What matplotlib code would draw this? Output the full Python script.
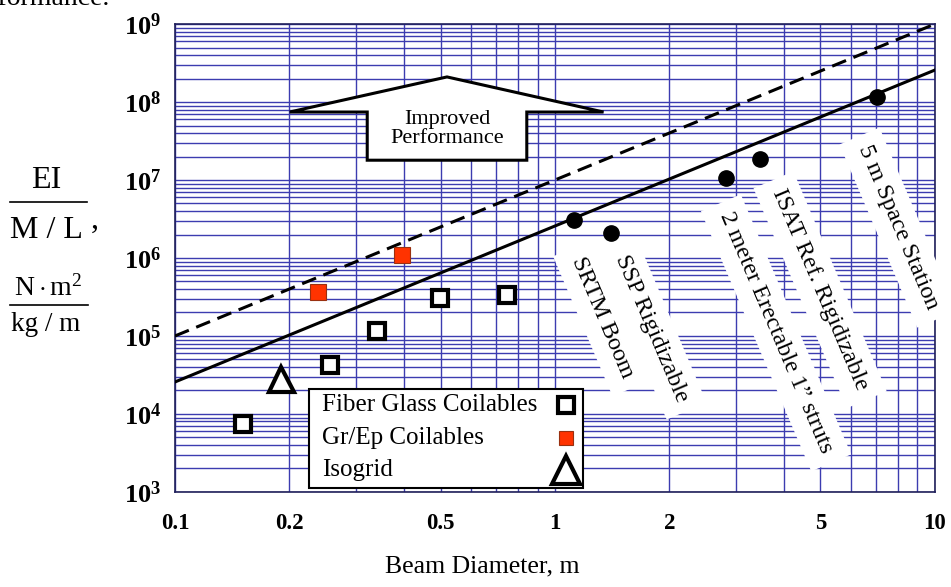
import matplotlib
matplotlib.use("Agg")
import matplotlib.pyplot as plt
from matplotlib.lines import Line2D
from matplotlib.patches import Polygon, Rectangle

plt.rcParams["font.family"] = ["Liberation Serif", "DejaVu Serif"]
plt.rcParams["mathtext.fontset"] = "custom"
plt.rcParams["mathtext.rm"] = "Liberation Serif"
plt.rcParams["mathtext.bf"] = "Liberation Serif:bold"
plt.rcParams["mathtext.it"] = "Liberation Serif:italic"

# beam diameter (m) vs EI/(M/L) (N m^2 / (kg/m))
fiberglass_d = [0.151, 0.256, 0.340, 0.498, 0.748]
fiberglass_ei = [7.45e3, 4.24e4, 1.16e5, 3.07e5, 3.36e5]
grep_d = [0.238, 0.396]
grep_ei = [3.66e5, 1.09e6]
isogrid_d = [0.190]
isogrid_ei = [2.81e4]

rigid_names = ["SRTM Boom", "SSP Rigidizable", "2 meter Erectable 1\u201d struts",
               "ISAT Ref. Rigidizable", "5 m Space Station"]
rigid_d = [1.122, 1.403, 2.82, 3.46, 7.03]
rigid_ei = [3.07e6, 2.09e6, 1.06e7, 1.86e7, 1.16e8]

# trend lines
line_d = [0.1, 10]
solid_ei = [2.57e4, 2.57e8]
dashed_ei = [1.0e5, 1.0e9]

x_ticks = [0.1, 0.2, 0.5, 1, 2, 5, 10]
x_ticklabels = ["0.1", "0.2", "0.5", "1", "2", "5", "10"]
y_ticks = [1e3, 1e4, 1e5, 1e6, 1e7, 1e8, 1e9]
y_ticklabels = [r"$\mathbf{10^{%d}}$" % e for e in range(3, 10)]

legend_labels = ["Fiber Glass Coilables", "Gr/Ep Coilables", "Isogrid"]

grid_color = "#3c3cb0"
red = "#ff3300"

fig = plt.figure(figsize=(9.51, 5.87), dpi=100)
ax = fig.add_axes([0.184, 0.162, 0.799, 0.797])
ax.set_xscale("log")
ax.set_yscale("log")
ax.set_xlim(0.1, 10)
ax.set_ylim(1e3, 1e9)

ax.grid(which="both", color=grid_color, lw=1.0)
ax.set_axisbelow(True)
for sp in ax.spines.values():
    sp.set_color("#20205a")
    sp.set_linewidth(1.2)

ax.set_xticks(x_ticks)
ax.set_xticklabels(x_ticklabels, fontsize=16.5, fontweight="bold")
ax.set_yticks(y_ticks)
ax.set_yticklabels(y_ticklabels, fontsize=19)
ax.tick_params(which="both", length=0)
ax.tick_params(axis="x", pad=15)
ax.tick_params(axis="y", pad=10)

# trend lines
ax.plot(line_d, solid_ei, color="black", lw=2.2, zorder=3)
ax.plot(line_d, dashed_ei, color="black", lw=2.2, dashes=(4.9, 2.6), zorder=3)

# data points
fg_style = dict(ls="none", marker="s", ms=12, mfc="white", mec="black", mew=3)
gr_style = dict(ls="none", marker="s", ms=12, mfc=red, mec="#993010", mew=0.8)
iso_style = dict(ls="none", marker="^", ms=18, mfc="white", mec="black", mew=3)
ax.plot(fiberglass_d, fiberglass_ei, zorder=5, **fg_style)
ax.plot(grep_d, grep_ei, zorder=5, **gr_style)
ax.plot(isogrid_d, isogrid_ei, zorder=5, **iso_style)
ax.plot(rigid_d, rigid_ei, ls="none", marker="o", ms=11, color="black", zorder=6)

# rotated labels for the rigidizable booms
label_pos = [(0.563, 0.372), (0.627, 0.350), (0.791, 0.340), (0.849, 0.432), (0.952, 0.565)]
for name, (lx, ly) in zip(rigid_names, label_pos):
    ax.text(lx, ly, name, transform=ax.transAxes, rotation=-67, ha="center",
            va="center", fontsize=17.5, zorder=4,
            bbox=dict(facecolor="white", edgecolor="none", pad=8))

# improved performance arrow
arrow_pts = [(0.151, 0.812), (0.358, 0.887), (0.564, 0.812), (0.463, 0.812),
             (0.463, 0.709), (0.253, 0.709), (0.253, 0.812)]
ax.add_patch(Polygon(arrow_pts, closed=True, transform=ax.transAxes,
                     facecolor="white", edgecolor="black", lw=2.2, zorder=4))
ax.text(0.358, 0.776, "Improved\nPerformance", transform=ax.transAxes,
        ha="center", va="center", fontsize=16, linespacing=0.95, zorder=5)

# legend box: labels left, symbols right
ax.add_patch(Rectangle((0.176, 0.0085), 0.361, 0.2115, transform=ax.transAxes,
                       facecolor="white", edgecolor="black", lw=1.5, zorder=7))
row_y = [0.186, 0.116, 0.046]
for lab, style, ry in zip(legend_labels, [fg_style, gr_style, iso_style], row_y):
    ax.text(0.193, ry, lab, transform=ax.transAxes, ha="left", va="center",
            fontsize=18, zorder=8)
    st = dict(style)
    if st["marker"] == "^":
        st["ms"] = 20
    if st["mfc"] == red:
        st["ms"] = 10.5
    ax.plot([0.514], [ry], transform=ax.transAxes, clip_on=False, zorder=8, **st)

# axis labels
ax.set_xlabel("Beam Diameter, m", fontsize=18.5)
ax.xaxis.set_label_coords(0.404, -0.135)
fig.text(0.0484, 0.680, "EI", ha="center", va="baseline", fontsize=23)
fig.add_artist(Line2D([0.0105, 0.0915], [0.656, 0.656], color="black", lw=1.2))
fig.text(0.0484, 0.595, "M / L", ha="center", va="baseline", fontsize=23)
fig.text(0.1, 0.612, ",", ha="center", va="baseline", fontsize=23)
fig.text(0.0505, 0.497, r"$\mathrm{N\cdot m^{2}}$", ha="center", va="baseline", fontsize=20)
fig.add_artist(Line2D([0.0105, 0.0925], [0.480, 0.480], color="black", lw=1.2))
fig.text(0.0484, 0.436, "kg / m", ha="center", va="baseline", fontsize=19.5)

# fragment of the surrounding document text, cut by the top edge
fig.text(0.116, 0.992, "performance.", ha="right", va="baseline", fontsize=20)

fig.savefig("out.png", dpi=100)
